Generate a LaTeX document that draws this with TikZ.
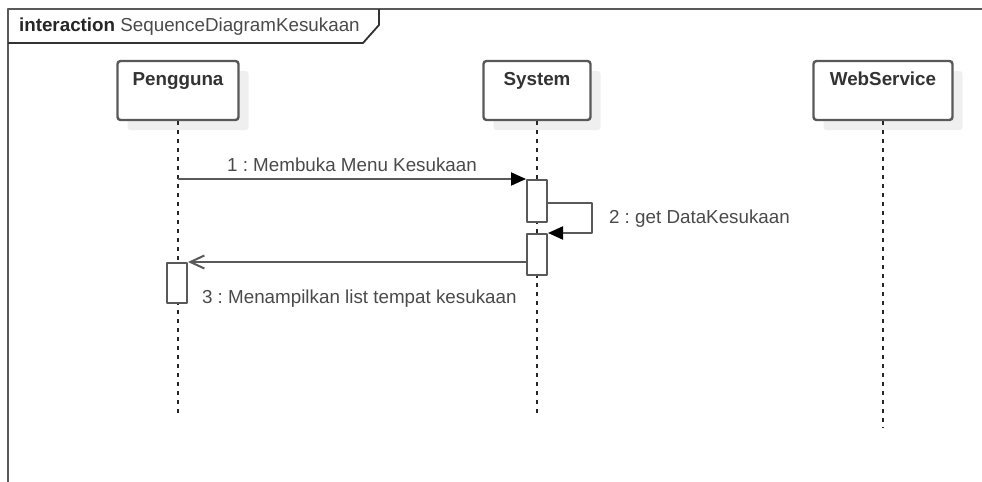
\documentclass[tikz,border=0pt]{standalone}
\usepackage{fontspec}
\setmainfont{Liberation Sans}
\usetikzlibrary{arrows.meta,shadows}
\frenchspacing

\definecolor{linegray}{HTML}{595959}
\definecolor{textgray}{HTML}{4A4A4A}
\definecolor{shadowgray}{HTML}{EFEFEF}

\begin{document}
\begin{tikzpicture}[x=0.5pt, y=-0.5pt, line join=round,
  every node/.style={font=\fontsize{9.4}{11}\selectfont, text=textgray},
  participant/.style={draw=linegray, line width=1.2pt, fill=white, rounded corners=1.5pt,
    minimum height=29.5pt, inner sep=0pt,
    general shadow={fill=shadowgray, shadow xshift=5pt, shadow yshift=-5pt}},
  partname/.style={anchor=base, font=\fontsize{9.4}{11}\selectfont\bfseries, text=black!80},
  act/.style={draw=linegray, line width=1pt, fill=white, minimum width=10pt, inner sep=0pt},
  lifeline/.style={black!85, line width=0.8pt, dash pattern=on 2pt off 2.5pt},
  msg/.style={linegray, line width=1pt}]

\useasboundingbox (0,0) rectangle (982,482);

% =============================================
% MARCO: interaction
% =============================================
\draw[linegray, line width=1pt] (982,9) -- (8,9) -- (8,482);
\draw[black!80, line width=0.9pt] (8,43) -- (363,43) -- (379,25) -- (379,9);
\node[anchor=base west] (titulo) at (12,32) {{\bfseries\color{black!85}interaction} SequenceDiagramKesukaan};

% =============================================
% PARTICIPANTES
% =============================================
\node[participant, minimum width=60.5pt] (pengguna) at (178,90.5) {};
\node[participant, minimum width=53.5pt] (system) at (537,90.5) {};
\node[participant, minimum width=69.5pt] (webservice) at (883,90.5) {};

\node[partname] (penggunaT) at ([yshift=-13pt]pengguna.north) {Pengguna};
\node[partname] (systemT) at ([yshift=-13pt]system.north) {System};
\node[partname] (webserviceT) at ([yshift=-13pt]webservice.north) {WebService};

% Lineas de vida
\coordinate (penggunaEnd) at (178,418);
\coordinate (systemEnd) at (537,418);
\coordinate (webserviceEnd) at (883,428);
\draw[lifeline] (pengguna.south) -- (penggunaEnd);
\draw[lifeline] (system.south) -- (systemEnd);
\draw[lifeline] (webservice.south) -- (webserviceEnd);

% =============================================
% ACTIVACIONES
% =============================================
\node[act, minimum height=21pt] (act1) at (537,201) {};
\node[act, minimum height=20.5pt] (act2) at (537,254.5) {};
\node[act, minimum height=20pt] (act3) at (177,283) {};

% =============================================
% MENSAJES
% =============================================
% 1: Pengguna -> System
\draw[msg, -{Triangle[length=7.5pt, width=6.5pt, black]}] (act1.north west -| pengguna) -- (act1.north west);
\node[anchor=base] (msg1) at (352,171) {1 : Membuka Menu Kesukaan};

% 2: mensaje propio en System
\draw[msg, -{Triangle[length=7.5pt, width=6.5pt, black]}] ([yshift=-1pt]act1.east) -- ++(22pt,0) |- (act2.north east);
\node[anchor=base west] (msg2) at (602,223) {2 : get DataKesukaan};

% 3: System -> Pengguna (retorno)
\draw[msg, -{Straight Barb[length=7pt, width=6.5pt]}] (act3.north east -| act2.west) -- (act3.north east);
\node[anchor=base west] (msg3) at (195,303) {3 : Menampilkan list tempat kesukaan};

\end{tikzpicture}
\end{document}
